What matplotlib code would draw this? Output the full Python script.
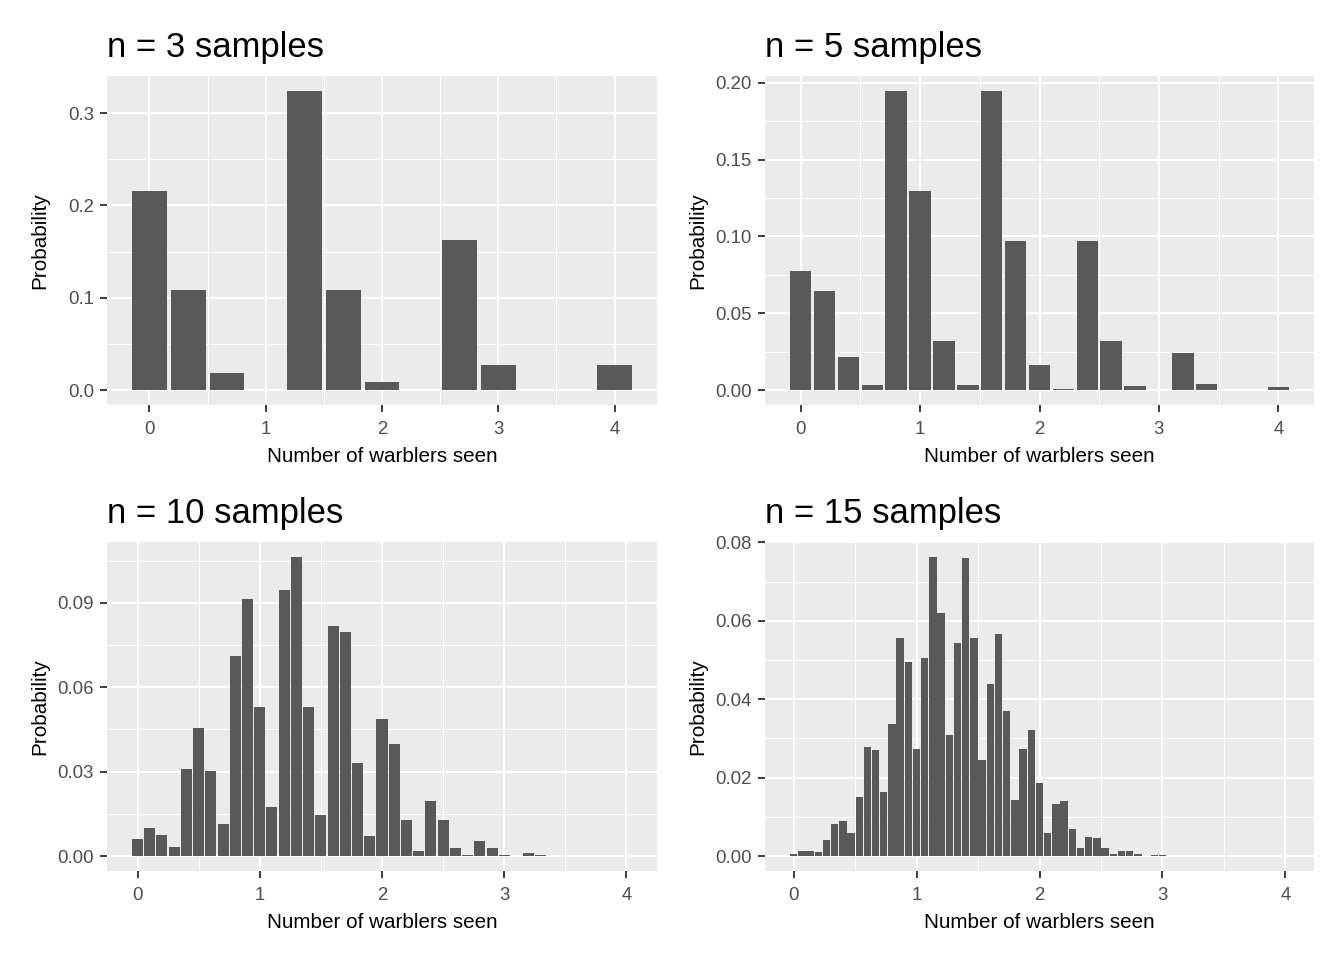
import numpy as np
import matplotlib
matplotlib.use("Agg")
import matplotlib.pyplot as plt
from matplotlib.ticker import MultipleLocator, FormatStrFormatter

plt.rcParams['font.family'] = ['Liberation Sans', 'DejaVu Sans']

# ---- data: totals seen in the sample (sum) and probabilities; mean = sum / n
n_sizes = [3, 5, 10, 15]
titles = ["n = 3 samples", "n = 5 samples", "n = 10 samples", "n = 15 samples"]

sums_n3 = [0, 1, 2, 4, 5, 6, 8, 9, 12]
prob_n3 = [0.216, 0.108, 0.018, 0.324, 0.108, 0.009, 0.162, 0.027, 0.027]

sums_n5 = list(range(0, 21))
prob_n5 = [0.0776, 0.0646, 0.0215, 0.0034, 0.1946, 0.1295, 0.0322, 0.0034,
           0.1944, 0.0970, 0.0160, 0.0008, 0.0970, 0.0322, 0.0026, 0.0,
           0.0242, 0.0040, 0.0, 0.0, 0.0022]

sums_n10 = list(range(0, 41))
prob_n10 = [0.0060, 0.0101, 0.0075, 0.0033, 0.0311, 0.0454, 0.0302, 0.0115,
            0.0710, 0.0913, 0.0528, 0.0176, 0.0945, 0.1063, 0.0528, 0.0147,
            0.0817, 0.0795, 0.0329, 0.0072, 0.0486, 0.0397, 0.0129, 0.0019,
            0.0197, 0.0129, 0.0030, 0.0003, 0.0055, 0.0027, 0.0004, 0.00003,
            0.0010, 0.0003, 0.00003, 0.0, 0.0001, 0.00002, 0.0, 0.0, 0.000006]

sums_n15 = list(range(0, 61))
prob_n15 = [0.0005, 0.0012, 0.0014, 0.0010, 0.0040, 0.0083, 0.0089, 0.0058,
            0.0150, 0.0278, 0.0270, 0.0163, 0.0337, 0.0556, 0.0495, 0.0273,
            0.0505, 0.0763, 0.0620, 0.0308, 0.0544, 0.0761, 0.0556, 0.0245,
            0.0439, 0.0567, 0.0370, 0.0142, 0.0273, 0.0321, 0.0186, 0.0060,
            0.0132, 0.0140, 0.0068, 0.0020, 0.0048, 0.0045, 0.0020, 0.0004,
            0.0014, 0.0012, 0.0004, 0.00006, 0.0003, 0.0002, 0.00005, 0.00001,
            0.00005, 0.00003, 0.000005, 0.000001, 0.000006, 0.000003, 0.0000005, 0.0,
            0.0000005, 0.0000002, 0.0, 0.0, 0.00000001]

all_sums = [sums_n3, sums_n5, sums_n10, sums_n15]
all_probs = [prob_n3, prob_n5, prob_n10, prob_n15]

y_major = [0.1, 0.05, 0.03, 0.02]
y_decimals = [1, 2, 2, 2]

x_label = "Number of warblers seen"
y_label = "Probability"

# ---- layout (pixels)
W, H = 1344, 960
panels = [(107, 76, 657, 405), (765, 76, 1314, 405),
          (107, 542, 657, 871), (765, 542, 1314, 871)]

BAR = '#595959'
BG = '#EBEBEB'

fig = plt.figure(figsize=(W / 96, H / 96), dpi=96)

for i, (l, t, r, b) in enumerate(panels):
    n = n_sizes[i]
    x = np.array(all_sums[i]) / n
    y = np.array(all_probs[i])
    w = 0.9 / n
    ax = fig.add_axes([l / W, 1 - b / H, (r - l) / W, (b - t) / H])
    ax.set_facecolor(BG)
    ax.bar(x, y, width=w, color=BAR, linewidth=0, zorder=3)

    xmin, xmax = x.min() - w / 2, x.max() + w / 2
    pad = (xmax - xmin) * 0.05
    ax.set_xlim(xmin - pad, xmax + pad)
    ymax = y.max()
    ax.set_ylim(-0.05 * ymax, 1.05 * ymax)

    ax.xaxis.set_major_locator(MultipleLocator(1))
    ax.xaxis.set_minor_locator(MultipleLocator(0.5))
    ax.yaxis.set_major_locator(MultipleLocator(y_major[i]))
    ax.yaxis.set_minor_locator(MultipleLocator(y_major[i] / 2))
    ax.xaxis.set_major_formatter(FormatStrFormatter('%d'))
    ax.yaxis.set_major_formatter(FormatStrFormatter('%.' + str(y_decimals[i]) + 'f'))

    ax.grid(which='major', color='white', linewidth=1.5, zorder=1)
    ax.grid(which='minor', color='white', linewidth=0.75, zorder=1)
    ax.set_axisbelow(True)
    for s in ax.spines.values():
        s.set_visible(False)
    ax.tick_params(which='major', length=5.25, width=1.4, color='#333333',
                   labelcolor='#4D4D4D', labelsize=14)
    ax.tick_params(axis='x', which='major', pad=6.5)
    ax.tick_params(axis='y', which='major', pad=4.5)
    ax.tick_params(which='minor', length=0)

    fig.text(l / W, 1 - (t - 19) / H, titles[i], ha='left', va='baseline',
             fontsize=26, color='black')
    fig.text((l + r) / 2 / W, 1 - (b + 57) / H, x_label, ha='center',
             va='baseline', fontsize=15.5, color='black')
    fig.text((l - 67) / W, 1 - ((t + b) / 2) / H, y_label, rotation=90,
             ha='center', va='center', fontsize=15.5, color='black')

fig.savefig('out.png', dpi=96, facecolor='white')
